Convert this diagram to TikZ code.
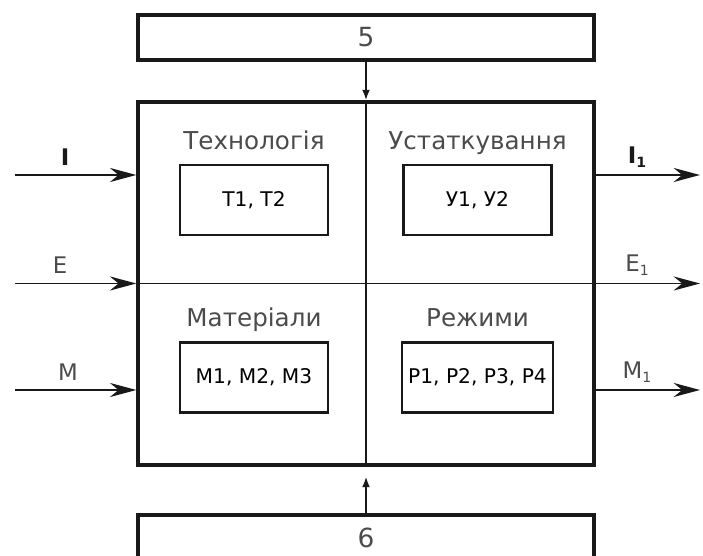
\documentclass[tikz,border=0pt]{standalone}
\usepackage{fontspec}
\setmainfont{DejaVu Sans}
\usepackage{xcolor}
\usepackage{tikz}
\usetikzlibrary{arrows.meta,positioning}
\definecolor{ink}{RGB}{25,25,25}
\definecolor{dim}{RGB}{75,75,75}
\newcommand{\lowidx}[1]{\raisebox{-0.35ex}{\fontsize{8}{9}\selectfont #1}}

\begin{document}
\begin{tikzpicture}
\useasboundingbox (0,0) rectangle (14.06,11.12);
\tikzset{bar/.style={draw=ink,line width=1.8pt,minimum width=9.12cm,minimum height=0.9cm,font=\fontsize{15}{16}\selectfont\color{dim}},
  cell/.style={draw=ink,line width=1.3pt,minimum width=2.96cm,minimum height=1.4cm,font=\fontsize{11.5}{12}\selectfont},
  head/.style={font=\fontsize{14}{15}\selectfont\color{dim},inner sep=0pt,text depth=0.25em},
  flow/.style={draw=ink,line width=1.1pt,-{Stealth[length=15pt,width=8pt]}},
  feed/.style={draw=ink,line width=1pt,-{Latex[length=6pt,width=4.5pt]}},
  lbl/.style={font=\fontsize{13}{14}\selectfont\color{dim}}}
\node[bar] (b5) at (7.32,10.37) {5};
\node[bar] (b6) at (7.32,0.37) {6};
\node[draw=ink,line width=1.9pt,minimum width=9.12cm,minimum height=7.26cm] (main) at (7.32,5.45) {};
\draw[ink,line width=1.2pt] (main.north) -- (main.south);
\draw[ink,line width=1.1pt] (main.west) -- (main.east);
\node[cell] (t) at (5.08,7.12) {T1, T2};
\node[cell] (u) at (9.55,7.12) {У1, У2};
\node[cell] (m) at (5.08,3.57) {M1, M2, M3};
\node[cell] (r) at (9.55,3.57) {P1, P2, P3, P4};
\node[head,above=0.2cm of t] {Технологія};
\node[head,above=0.2cm of u] {Устаткування};
\node[head,above=0.2cm of m] {Матеріали};
\node[head,above=0.2cm of r] {Режими};
\draw[feed] (b5) -- (main.north);
\draw[feed,shorten >=0.2cm] (b6) -- (main.south);
\coordinate (iin) at (0.3,7.62);
\coordinate (ein) at (0.3,5.45);
\coordinate (min) at (0.3,3.32);
\coordinate (iout) at (14.0,7.62);
\coordinate (eout) at (14.0,5.45);
\coordinate (mout) at (14.0,3.32);
\draw[flow] (iin) -- (iin -| main.west);
\draw[flow] (ein) -- (main.west);
\draw[flow] (min) -- (min -| main.west);
\draw[flow] (iout -| main.east) -- (iout);
\draw[flow] (main.east) -- (eout);
\draw[flow] (mout -| main.east) -- (mout);
\node[lbl,font=\fontsize{13}{14}\selectfont\bfseries\color{ink}] (li) at (1.30,7.98) {I};
\node[lbl] (le) at (1.20,5.82) {E};
\node[lbl] (lm) at (1.36,3.68) {M};
\node[lbl,font=\fontsize{13}{14}\selectfont\bfseries\color{ink}] (li1) at (12.74,7.98) {I\lowidx{1}};
\node[lbl] (le1) at (12.74,5.82) {E\lowidx{1}};
\node[lbl] (lm1) at (12.74,3.68) {M\lowidx{1}};
\end{tikzpicture}
\end{document}
